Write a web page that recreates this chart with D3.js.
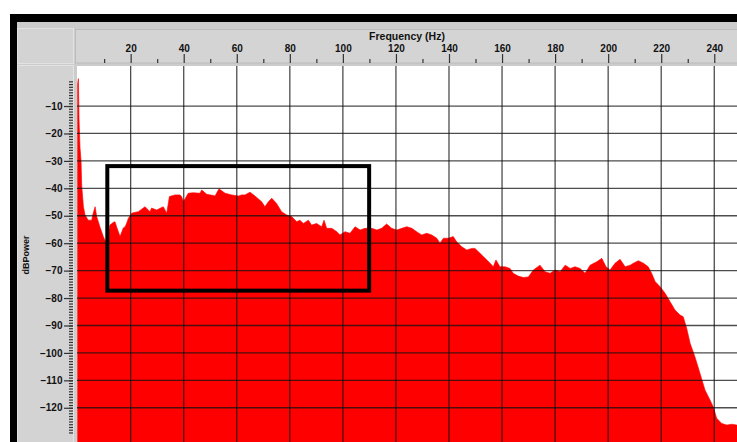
<!DOCTYPE html>
<html>
<head>
<meta charset="utf-8">
<script src="https://cdn.jsdelivr.net/npm/d3@7"></script>
<style>
  body { margin: 0; background: #fff; }
  svg { display: block; }
</style>
</head>
<body>
<div id="divChart"></div>
<script>
// spectrum (Hz, dB)
const freqHz = [0, 0.3, 0.55, 0.9, 1.3, 1.55, 2.2, 2.8, 4.0, 5.3, 5.9, 6.6, 7.2, 8.4, 9.7, 10.6, 11.2,
  12.2, 13.5, 14.1, 14.7, 16.0, 17.2, 17.9, 18.5, 19.1, 20.4, 21.0, 22.9, 25.4, 26.0, 27.3, 27.9, 29.8,
  32.3, 33.6, 34.6, 36.7, 38.6, 39.2, 39.9, 41.7, 43.6, 46.1, 46.8, 48.7, 51.2, 51.8, 53.3, 55.6, 58.1,
  60.6, 61.9, 63.1, 65.0, 67.5, 69.4, 70.6, 71.9, 73.2, 75.0, 76.9, 78.8, 80.7, 82.6, 83.8, 85.1, 87.0,
  88.2, 90.1, 92.0, 92.9, 93.9, 95.8, 97.7, 98.9, 100.8, 102.7, 104.6, 106.5, 108.3, 110.9, 112.8, 114.6,
  116.5, 118.4, 120.3, 122.2, 124.1, 126.0, 127.8, 129.7, 131.6, 133.5, 135.4, 136.6, 137.9, 139.7, 141.6,
  142.9, 144.8, 146.7, 148.6, 149.8, 151.7, 153.6, 155.5, 156.7, 157.7, 159.2, 161.1, 163.0, 164.2, 166.1,
  168.0, 169.9, 171.8, 174.3, 176.2, 178.1, 180.0, 181.9, 183.8, 185.7, 187.5, 189.4, 191.3, 193.2, 195.7,
  197.6, 199.2, 200.7, 202.6, 204.5, 206.4, 208.3, 209.5, 211.4, 213.3, 215.1, 216.4, 217.7, 219.6, 221.5,
  223.3, 225.2, 227.1, 228.3, 229.6, 230.9, 232.7, 234.6, 236.5, 238.4, 239.6, 240.9, 242.8, 244.7, 246.6,
  248.5, 250];
const powerDb = [-2, 0, -15, -25, -30, -39, -46.7, -49.7, -51.6, -51.6, -49, -46.7, -50.3, -54, -57.6, -59.5, -58.8,
  -53.4, -52.4, -52.2, -54, -57.6, -54.5, -54, -52.7, -51, -49.1, -48.9, -48.5, -46.7, -47.3, -48.5, -47.2, -47.9,
  -46.7, -49.1, -43, -42.4, -42.4, -43, -44.9, -41.8, -41.6, -41.8, -40.6, -42.2, -42.6, -42.8, -40.2, -41.8, -42.4,
  -42.8, -42.4, -42.4, -41.4, -43.3, -44.9, -46.7, -44.9, -43.6, -45.5, -48.5, -49.7, -50.3, -52.2, -51.6, -52.8, -51.6,
  -53.4, -52.8, -54, -51.6, -54.6, -54.6, -55.8, -57, -55.8, -56.4, -54, -55.2, -54.6, -54.6, -55.2, -54.6,
  -53, -54.6, -55.2, -54.6, -54, -54.6, -55.8, -57, -56.4, -57, -58.2, -60, -58.2, -58.2, -57.6,
  -59.5, -61.3, -62.5, -61.9, -61.9, -63.7, -65.5, -67.3, -68.6, -66.1, -68.6, -68.6, -69.2, -71, -72,
  -72.5, -72.3, -69.8, -68, -70.4, -71, -69.8, -70.4, -68, -69.2, -68.6, -69.2, -71, -68, -66.8,
  -65.5, -68.6, -69.8, -67.3, -65.9, -68.6, -68, -67.3, -66.4, -67.3, -68.6, -71, -74, -75.9, -78.3,
  -81.3, -84.4, -86.2, -86.8, -91, -96.5, -101.4, -107.4, -113.5, -117.2, -119.6, -123.8, -125.7, -126.3, -126,
  -126.3, -126];

const freqTicks = [20, 40, 60, 80, 100, 120, 140, 160, 180, 200, 220, 240];
const freqMinorTicks = [10, 30, 50, 70, 90, 110, 130, 150, 170, 190, 210, 230, 250];
const dbTicks = [-10, -20, -30, -40, -50, -60, -70, -80, -90, -100, -110, -120];
const dbMinorTicks = d3.range(-1, -130, -1);

// highlighted box: [Hz from, Hz to, dB top, dB bottom]
const boxHz = [11.2, 109.9];
const boxDb = [-31.9, -77.3];

const width = 737, height = 442;
const plotLeft = 77, plotTop = 66;

const svg = d3.select('#divChart').append('svg')
  .attr('width', width)
  .attr('height', height);

const x = d3.scaleLinear().domain([0, 250]).range([77.6, 740.8]);
const y = d3.scaleLinear().domain([0, -130]).range([78.6, 435.2]);

// frame and panels
svg.append('rect').attr('x', 10).attr('y', 14).attr('width', width).attr('height', height).attr('fill', '#000');
svg.append('rect').attr('x', 17).attr('y', 22).attr('width', width).attr('height', height).attr('fill', '#cccccc');
svg.append('rect').attr('x', 17.5).attr('y', 28.5).attr('width', 56).attr('height', 35)
  .attr('fill', '#d3d3d3').attr('stroke', '#e2e2e2');
svg.append('rect').attr('x', 75.5).attr('y', 29.5).attr('width', 670).attr('height', 33.5)
  .attr('fill', '#d4d4d4').attr('stroke', '#bcbcbc');
svg.append('rect').attr('x', 17.5).attr('y', 65.5).attr('width', 56).attr('height', 400)
  .attr('fill', '#d3d3d3').attr('stroke', '#e2e2e2');

svg.append('clipPath').attr('id', 'plotClip')
  .append('rect').attr('x', plotLeft).attr('y', plotTop).attr('width', width - plotLeft).attr('height', height - plotTop);

const plot = svg.append('g').attr('clip-path', 'url(#plotClip)');
plot.append('rect').attr('x', plotLeft).attr('y', plotTop)
  .attr('width', width - plotLeft).attr('height', height - plotTop).attr('fill', '#fff');

const points = freqHz.map((f, i) => [f, powerDb[i]]);
const area = d3.area()
  .x(d => x(d[0]))
  .y0(y(-140))
  .y1(d => y(d[1]));
plot.append('path').datum(points)
  .attr('d', area)
  .attr('fill', '#ff0000')
  .attr('stroke', '#ff0000')
  .attr('stroke-width', 0.6);

// grid over the fill
plot.selectAll('.vgrid').data(freqTicks).enter()
  .append('line')
  .attr('x1', d => x(d)).attr('x2', d => x(d))
  .attr('y1', plotTop).attr('y2', height)
  .attr('stroke', '#111').attr('stroke-opacity', 0.75).attr('stroke-width', 1.3);
plot.selectAll('.hgrid').data(dbTicks).enter()
  .append('line')
  .attr('x1', plotLeft).attr('x2', width)
  .attr('y1', d => y(d)).attr('y2', d => y(d))
  .attr('stroke', '#111').attr('stroke-opacity', 0.75).attr('stroke-width', 1.3);

plot.append('rect')
  .attr('x', x(boxHz[0])).attr('y', y(boxDb[0]))
  .attr('width', x(boxHz[1]) - x(boxHz[0]))
  .attr('height', y(boxDb[1]) - y(boxDb[0]))
  .attr('fill', 'none').attr('stroke', '#000').attr('stroke-width', 4);

// top axis
const topAxis = svg.append('g').attr('transform', 'translate(0,63)')
  .call(d3.axisTop(x).tickValues(freqTicks).tickSize(9).tickPadding(2));
svg.append('g').attr('transform', 'translate(0,63)')
  .call(d3.axisTop(x).tickValues(freqMinorTicks).tickSize(4).tickFormat(''));

// left axis
const leftAxis = svg.append('g').attr('transform', 'translate(73,0)')
  .call(d3.axisLeft(y).tickValues(dbTicks).tickSize(9).tickPadding(1.5));
svg.append('g').attr('transform', 'translate(73,0)')
  .call(d3.axisLeft(y).tickValues(dbMinorTicks).tickSize(4).tickFormat(''));

svg.selectAll('.domain').remove();
svg.selectAll('.tick line').attr('stroke', '#333').attr('stroke-width', 1.2);
svg.selectAll('.tick text')
  .attr('fill', '#111')
  .style('font-family', '"Liberation Sans", Arial, sans-serif')
  .style('font-size', '10px')
  .style('font-weight', 'bold');

svg.append('text')
  .attr('x', (plotLeft + width) / 2).attr('y', 40)
  .attr('text-anchor', 'middle')
  .style('font-family', '"Liberation Sans", Arial, sans-serif')
  .style('font-size', '10.5px').style('font-weight', 'bold').attr('fill', '#111')
  .text('Frequency (Hz)');

svg.append('text')
  .attr('transform', 'translate(29,255) rotate(-90)')
  .attr('text-anchor', 'middle')
  .style('font-family', '"Liberation Sans", Arial, sans-serif')
  .style('font-size', '9px').style('font-weight', 'bold').attr('fill', '#111')
  .text('dBPower');
</script>
</body>
</html>
